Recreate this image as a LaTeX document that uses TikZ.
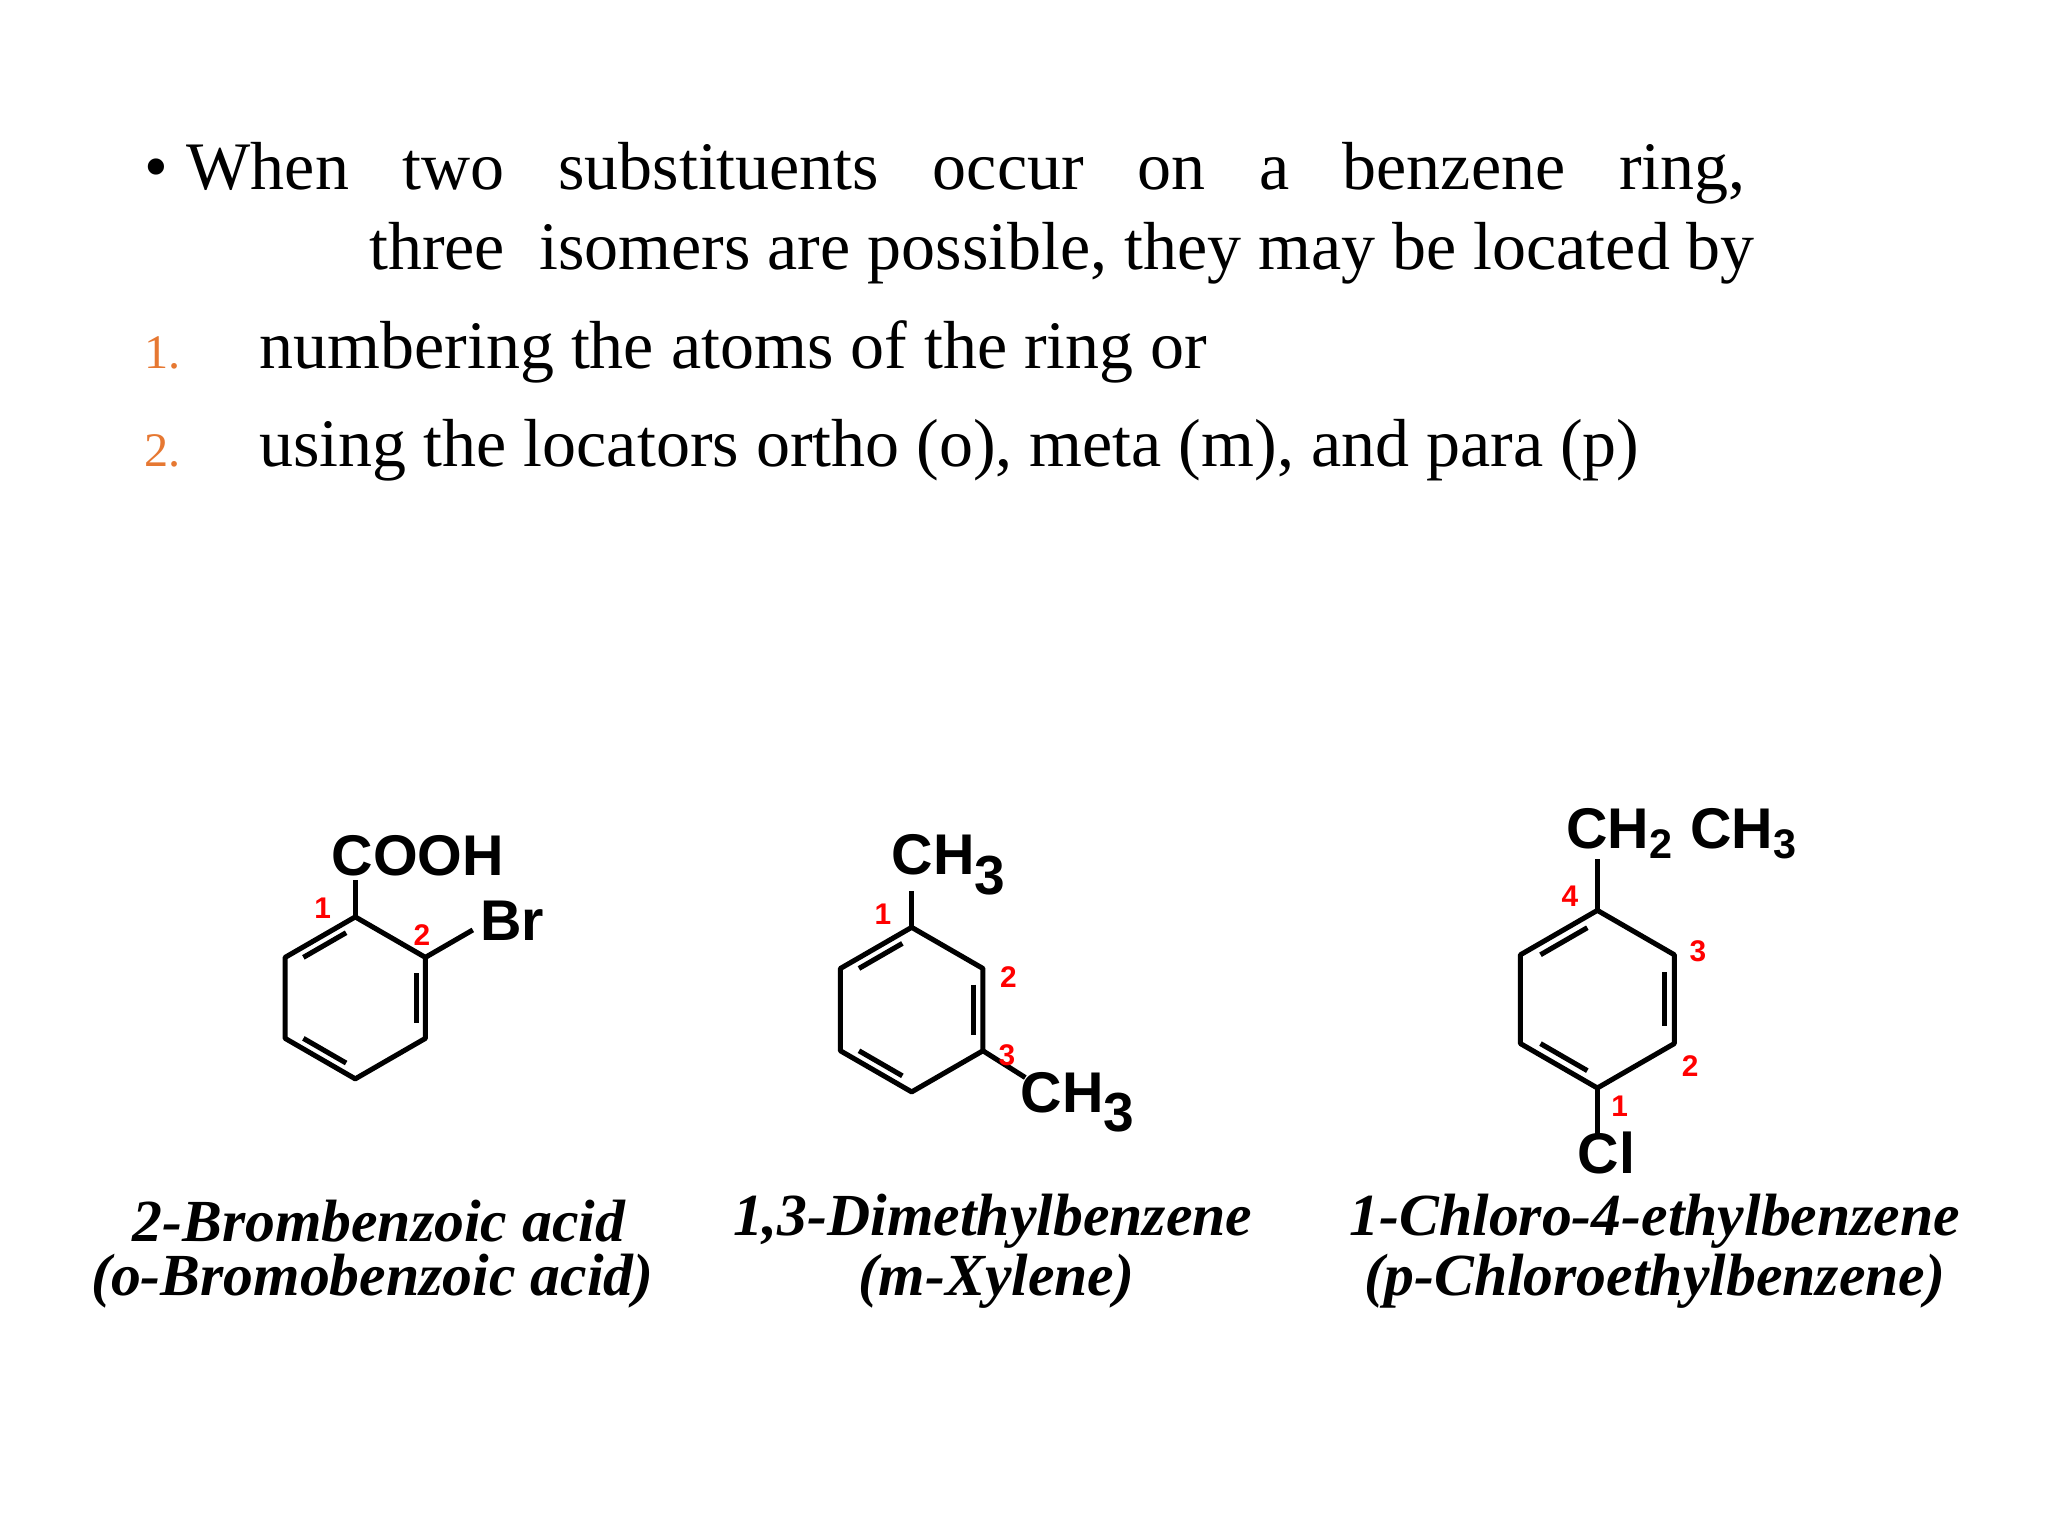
\documentclass[tikz,border=0pt]{standalone}
\usepackage{fontspec}
\setmainfont{Liberation Serif}
\setsansfont{Liberation Sans}
\usetikzlibrary{calc}
\definecolor{numorange}{RGB}{230,120,50}
\newcommand{\ringdraw}[4]{% cx cy r name
  \foreach \a [count=\i] in {90,30,-30,-90,-150,150}{
    \coordinate (#4\i) at ($(#1,#2)+({#3*cos(\a)},{-#3*sin(\a)})$);}
  \coordinate (#4c) at (#1,#2);
  \draw[bond,line join=round] (#41)--(#42)--(#43)--(#44)--(#45)--(#46)--cycle;
  \draw[bond] ($(#46)!0.15!(#41)!0.13!(#4c)$) -- ($(#41)!0.15!(#46)!0.13!(#4c)$);
  \draw[bond] ($(#42)!0.15!(#43)!0.13!(#4c)$) -- ($(#43)!0.15!(#42)!0.13!(#4c)$);
  \draw[bond] ($(#44)!0.15!(#45)!0.13!(#4c)$) -- ($(#45)!0.15!(#44)!0.13!(#4c)$);
}
\begin{document}
\begin{tikzpicture}[x=0.01cm,y=-0.01cm,
  body/.style={anchor=base west,inner sep=0,font=\fontsize{14.8}{17}\selectfont},
  lbl/.style={font=\sffamily\bfseries\fontsize{12.5}{14}\selectfont,inner sep=0},
  num/.style={font=\sffamily\bfseries\fontsize{6.5}{8}\selectfont,text=red,inner sep=0},
  captxt/.style={font=\itshape\bfseries\fontsize{13}{15}\selectfont,inner sep=0},
  bond/.style={line width=1.1pt}]
\useasboundingbox (0,0) rectangle (1568,1176);
\node[body] (l1) at (110,145) {\makebox[12.25cm][s]{\textbullet\kern4pt When two substituents occur on a benzene ring,}};
\node[body] (l2) at (282,206) {three\ \ isomers are possible, they may be located by};
\node[body,text=numorange,font=\fontsize{10.5}{12}\selectfont] (n1) at (110,282) {1.};
\node[body] (l3) at (198,282) {numbering the atoms of the ring or};
\node[body,text=numorange,font=\fontsize{10.5}{12}\selectfont] (n2) at (110,357) {2.};
\node[body] (l4) at (198,357) {using the locators ortho (o), meta (m), and para (p)};
% molecule 1
\ringdraw{272}{764}{62}{a}
\coordinate (aT) at (272,674);
\coordinate (aB) at (362,712);
\draw[bond] (a1) -- (aT);
\draw[bond] (a2) -- (aB);
\node[lbl] (cooh) at (320,655) {COOH};
\node[lbl] (br) at (392,705) {Br};
\node[num] (a1n) at (247,695) {1};
\node[num] (a2n) at (323,716) {2};
% molecule 2
\ringdraw{698}{773}{63}{b}
\coordinate (bT) at (698,682);
\coordinate (bR) at (785,825);
\draw[bond] (b1) -- (bT);
\draw[bond] (b3) -- (bR);
\node[lbl] (me1) at (727,662) {CH\textsubscript{\fontsize{12}{14}\selectfont 3}};
\node[lbl] (me2) at (826,844) {CH\textsubscript{\fontsize{12}{14}\selectfont 3}};
\node[num] (b1n) at (676,700) {1};
\node[num] (b2n) at (772,748) {2};
\node[num] (b3n) at (771,808) {3};
% molecule 3
\ringdraw{1223}{765}{68}{c}
\coordinate (cT) at (1223,658);
\coordinate (cB) at (1223,868);
\draw[bond] (c1) -- (cT);
\draw[bond] (c4) -- (cB);
\node[lbl] (et) at (1288,638) {CH\textsubscript{\fontsize{9}{10}\selectfont 2} CH\textsubscript{\fontsize{9}{10}\selectfont 3}};
\node[lbl] (cl) at (1230,883) {Cl};
\node[num] (c4n) at (1202,686) {4};
\node[num] (c3n) at (1300,728) {3};
\node[num] (c2n) at (1294,816) {2};
\node[num] (c1n) at (1240,847) {1};
% captions
\node[captxt] (t1) at (290,935) {2-Brombenzoic acid};
\node[captxt] (t1b) at (285,981) {(o-Bromobenzoic acid)};
\node[captxt] (t2) at (760,935) {1,3-Dimethylbenzene};
\node[captxt] (t2b) at (763,981) {(m-Xylene)};
\node[captxt] (t3) at (1267,935) {1-Chloro-4-ethylbenzene};
\node[captxt] (t3b) at (1267,981) {(p-Chloroethylbenzene)};
\end{tikzpicture}
\end{document}
